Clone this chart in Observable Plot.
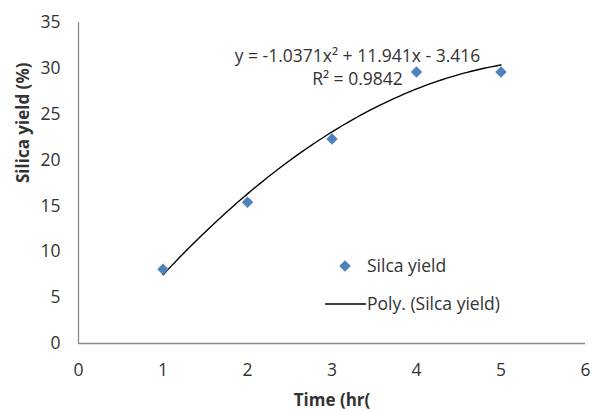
<!DOCTYPE html>
<html>
<head>
<meta charset="utf-8">
<script src="https://cdn.jsdelivr.net/npm/d3@7"></script>
<script src="https://cdn.jsdelivr.net/npm/@observablehq/plot@0.6"></script>
<style>
  html, body { margin: 0; padding: 0; background: #fff; }
  #chart { width: 592px; height: 411px; }
</style>
</head>
<body>
<div id="chart"></div>
<script>
// Data
const times = [1, 2, 3, 4, 5];
const yields = [8.1, 15.4, 22.3, 29.6, 29.6];
const xTicks = [0, 1, 2, 3, 4, 5, 6];
const yTicks = [0, 5, 10, 15, 20, 25, 30, 35];
// Trendline coefficients as printed on the chart: y = a x^2 + b x + c
const polyCoef = [-1.0371, 11.941, -3.416];
const equationText = ["y = -1.0371x\u00B2 + 11.941x - 3.416", "R\u00B2 = 0.9842"];
const legendLabels = ["Silca yield", "Poly. (Silca yield)"];
const xLabel = "Time (hr(";
const yLabel = "Silica yield (%)";

const points = times.map((t, i) => ({x: t, y: yields[i]}));
const trend = d3.range(times[0], times[times.length - 1] + 1e-9, 0.05)
  .map(x => ({x, y: polyCoef[0] * x * x + polyCoef[1] * x + polyCoef[2]}));

const FONT = "'Open Sans', Lato, sans-serif";
const FS = 17.5;
const TFS = 17;
const blue = "#4F81BD";
const textColor = "#333";

function legend(index, scales, values, dims) {
  const g = d3.create("svg:g")
    .attr("font-family", FONT)
    .attr("font-size", FS)
    .attr("text-anchor", "start")
    .attr("fill", textColor);
  const ox = 345, oy = 266;
  g.append("path")
    .attr("d", d3.symbol(d3.symbolDiamond2, 85)())
    .attr("transform", `translate(${ox},${oy})`)
    .attr("fill", blue);
  g.append("text").attr("x", ox + 22).attr("y", oy).attr("dy", "0.35em").text(legendLabels[0]);
  g.append("line")
    .attr("x1", ox - 20).attr("x2", ox + 21)
    .attr("y1", oy + 38).attr("y2", oy + 38)
    .attr("stroke", "#000").attr("stroke-width", 1.3);
  g.append("text").attr("x", ox + 22).attr("y", oy + 38).attr("dy", "0.35em").text(legendLabels[1]);
  return g.node();
}

const chart = Plot.plot({
  width: 592,
  height: 411,
  marginLeft: 78,
  marginRight: 7,
  marginTop: 22,
  marginBottom: 68,
  style: {fontFamily: FONT, fontSize: FS + "px", color: textColor, background: "#fff"},
  x: {domain: [0, 6], ticks: xTicks, tickFormat: "d"},
  y: {domain: [0, 35], ticks: yTicks, tickFormat: "d"},
  marks: [
    Plot.axisX({ticks: xTicks, tickFormat: "d", tickSize: 0, tickPadding: 20, label: null, fontSize: FS}),
    Plot.axisY({ticks: yTicks, tickFormat: "d", tickSize: 0, tickPadding: 18, label: null, fontSize: FS}),
    Plot.ruleY([0], {stroke: "#8a8a8a", strokeWidth: 1.3}),
    Plot.ruleX([0], {stroke: "#8a8a8a", strokeWidth: 1.3}),
    Plot.line(trend, {x: "x", y: "y", stroke: "#000", strokeWidth: 1.4, curve: "natural"}),
    Plot.dot(points, {x: "x", y: "y", symbol: "diamond2", r: 5.2, fill: blue, stroke: null}),
    Plot.text([equationText[0]], {frameAnchor: "top-left", dx: 279, dy: 27, text: d => d, fontSize: FS, fill: textColor, textAnchor: "middle"}),
    Plot.text([equationText[1]], {frameAnchor: "top-left", dx: 279, dy: 50, text: d => d, fontSize: FS, fill: textColor, textAnchor: "middle"}),
    Plot.text([xLabel], {frameAnchor: "bottom", dy: 62, text: d => d, fontSize: TFS, fontWeight: "bold", fill: textColor}),
    Plot.text([yLabel], {frameAnchor: "left", dx: -55, rotate: -90, text: d => d, fontSize: TFS, fontWeight: "bold", fill: textColor}),
    legend
  ]
});
document.getElementById("chart").appendChild(chart);
</script>
</body>
</html>
